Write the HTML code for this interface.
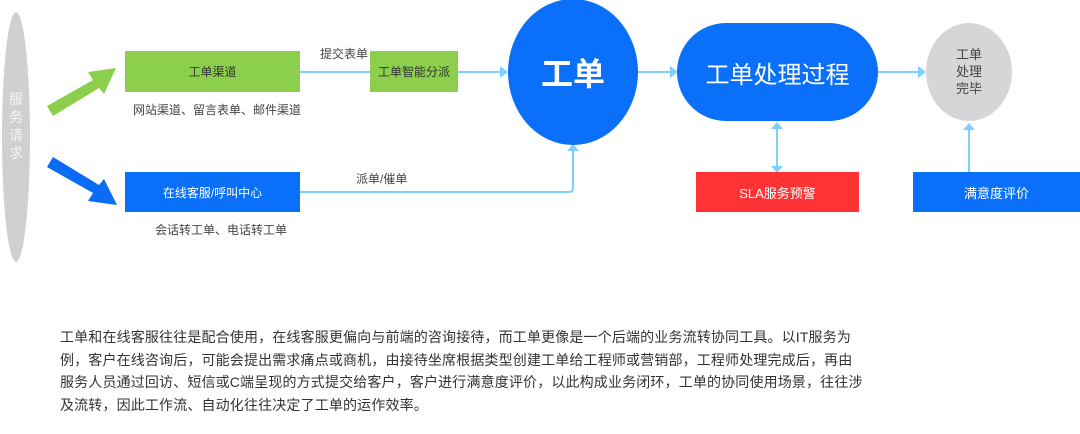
<!DOCTYPE html>
<html><head><meta charset="utf-8"><style>
body{margin:0;width:1080px;height:434px;background:#fff;position:relative;overflow:hidden;font-family:"Liberation Sans","Noto Sans CJK SC",sans-serif}
.a{position:absolute;display:flex;align-items:center;justify-content:center;text-align:center}
.t{position:absolute;font-size:12px;color:#444;white-space:nowrap}
p{position:absolute;left:60px;top:326px;margin:0;font-size:14px;letter-spacing:0.15px;line-height:22.7px;color:#333;white-space:nowrap}
</style></head><body>
<svg width="1080" height="300" style="position:absolute;left:0;top:0">
<ellipse cx="16" cy="137" rx="14" ry="125" fill="#d0d0d0"/>
<polygon points="47,106 93,80 88,72 116,68 104,94 99,88 53,116" fill="#8ccf4d"/>
<polygon points="47,167 93,193 88,201 117,205 104,179 99,185 53,157" fill="#0a6cf5"/>
<g stroke="#7dcfff" stroke-width="2" fill="none">
<line x1="300" y1="72" x2="375" y2="72"/><line x1="458" y1="72" x2="505" y2="72"/>
<line x1="637" y1="72" x2="674" y2="72"/><line x1="878" y1="72" x2="923" y2="72"/>
<path d="M300 192 H569 Q573 192 573 188 V148"/>
<line x1="777" y1="126" x2="777" y2="168"/><line x1="969" y1="124" x2="969" y2="172"/>
</g>
<g fill="#7dcfff">
<polygon points="370,66 378,72 370,78"/><polygon points="500,66 508,72 500,78"/>
<polygon points="670,66 678,72 670,78"/><polygon points="918,66 926,72 918,78"/>
<polygon points="567,151 573,144 579,151"/><polygon points="771,129 777,122 783,129"/>
<polygon points="771,166 777,173 783,166"/><polygon points="963,130 969,123 975,130"/>
</g>
<ellipse cx="573" cy="72" rx="65" ry="73" fill="#0a70fa"/>
<rect x="677" y="23" width="201" height="98" rx="49" fill="#0a70fa"/>
<ellipse cx="969" cy="72" rx="43" ry="49" fill="#d6d6d6"/>
</svg>
<div class="a" style="left:9px;top:90px;width:14px;font-size:14px;line-height:18px;color:#f4f4f4">服<br>务<br>请<br>求</div>
<div class="a" style="left:125px;top:51px;width:175px;height:41px;background:#8ccf4d;font-size:12px;color:#333">工单渠道</div>
<div class="a" style="left:370px;top:51px;width:88px;height:41px;background:#8ccf4d;font-size:12px;color:#333">工单智能分派</div>
<div class="a" style="left:125px;top:172px;width:175px;height:40px;background:#0a70fa;font-size:12px;color:#fff">在线客服/呼叫中心</div>
<div class="a" style="left:508px;top:40px;width:130px;height:64px;font-size:32px;font-weight:bold;color:#fff">工单</div>
<div class="a" style="left:677px;top:48px;width:201px;height:48px;font-size:24px;color:#fff">工单处理过程</div>
<div class="a" style="left:926px;top:46px;width:86px;font-size:13px;line-height:17px;color:#444">工单<br>处理<br>完毕</div>
<div class="a" style="left:696px;top:172px;width:163px;height:40px;background:#ff3333;font-size:13px;color:#fff">SLA服务预警</div>
<div class="a" style="left:913px;top:172px;width:167px;height:40px;background:#0a70fa;font-size:13px;color:#fff">满意度评价</div>
<div class="t" style="left:320px;top:45px">提交表单</div>
<div class="t" style="left:133px;top:101px">网站渠道、留言表单、邮件渠道</div>
<div class="t" style="left:356px;top:170px">派单/催单</div>
<div class="t" style="left:155px;top:221px">会话转工单、电话转工单</div>
<p>工单和在线客服往往是配合使用，在线客服更偏向与前端的咨询接待，而工单更像是一个后端的业务流转协同工具。以IT服务为<br>例，客户在线咨询后，可能会提出需求痛点或商机，由接待坐席根据类型创建工单给工程师或营销部，工程师处理完成后，再由<br>服务人员通过回访、短信或C端呈现的方式提交给客户，客户进行满意度评价，以此构成业务闭环，工单的协同使用场景，往往涉<br>及流转，因此工作流、自动化往往决定了工单的运作效率。</p>
</body></html>
